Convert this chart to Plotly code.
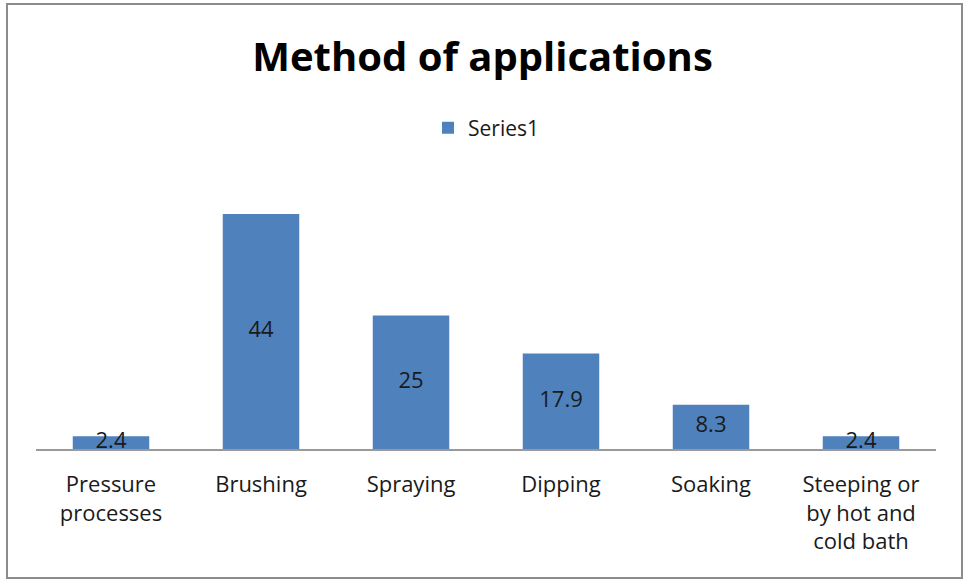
import plotly.graph_objects as go

categories = ["Pressure<br>processes", "Brushing", "Spraying", "Dipping", "Soaking",
              "Steeping or<br>by hot and<br>cold bath"]
values = [2.4, 44, 25, 17.9, 8.3, 2.4]
labels = ["2.4", "44", "25", "17.9", "8.3", "2.4"]

W, H = 965, 581
L, R, T, B = 36, 29, 160, 132
pw, ph = W - L - R, H - T - B

def px_x(x):
    return (x - L) / pw

def px_y(y):
    return (H - B - y) / ph

fig = go.Figure()
fig.add_trace(go.Bar(x=categories, y=values, name="Series1",
                     marker=dict(color="#4F81BD", line=dict(width=0)),
                     width=0.51))
fig.add_trace(go.Scatter(x=categories, y=[v / 2 for v in values], text=labels,
                         mode="text", showlegend=False,
                         textfont=dict(size=22, color="#1a1a1a", family="Open Sans"),
                         textposition="middle center", hoverinfo="skip"))

fig.update_layout(
    width=W, height=H,
    margin=dict(l=L, r=R, t=T, b=B),
    paper_bgcolor="white", plot_bgcolor="white",
    title=dict(text="<b>Method of applications</b>", x=0.5, xanchor="center",
               y=1 - 57 / H, yanchor="middle",
               font=dict(size=40, color="black", family="Open Sans")),
    legend=dict(orientation="h", x=0.5, xanchor="center", y=px_y(128), yanchor="middle",
                font=dict(size=21, color="#1a1a1a", family="Open Sans"),
                itemwidth=30),
    showlegend=True,
    xaxis=dict(showgrid=False, showline=True, linecolor="#9a9a9a", linewidth=1.5,
               ticks="", tickfont=dict(size=22, color="#1a1a1a", family="Open Sans"),
               ticklabelstandoff=15),
    yaxis=dict(range=[0, ph / (235 / 44)], visible=False, showgrid=False),
    bargap=0.49,
    shapes=[dict(type="rect", xref="paper", yref="paper",
                 x0=px_x(7), x1=px_x(962), y0=px_y(578), y1=px_y(4),
                 line=dict(color="#8c8c8c", width=2), fillcolor="rgba(0,0,0,0)",
                 layer="below")],
)

fig.write_html("out.html")
